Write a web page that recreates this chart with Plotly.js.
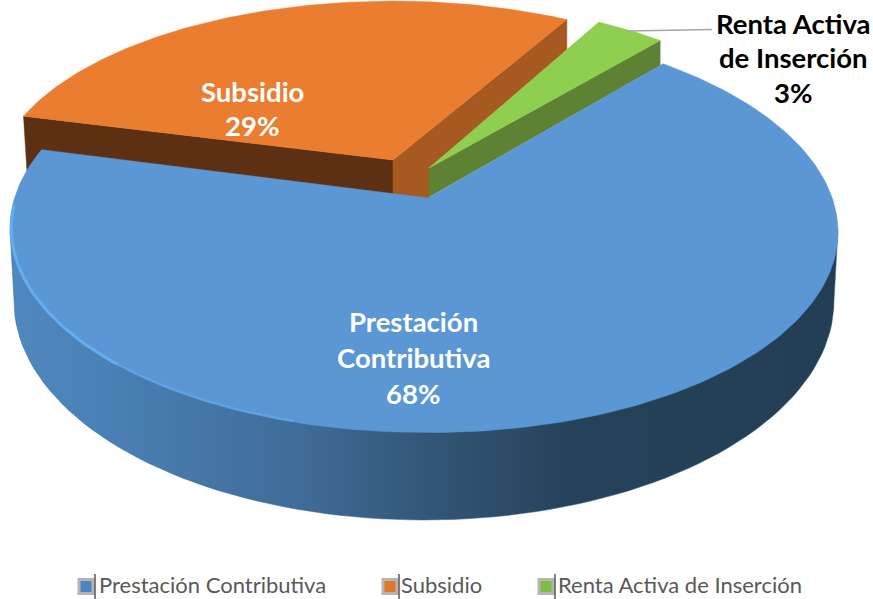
<!DOCTYPE html>
<html>
<head>
<meta charset="utf-8">
<script src="https://cdn.plot.ly/plotly-3.0.1.min.js"></script>
<style>html,body{margin:0;padding:0;background:#fff}#c{width:873px;height:599px}</style>
</head>
<body>
<div id="c"></div>
<script>
const categories = ['Prestación Contributiva', 'Subsidio', 'Renta Activa de Inserción'];
const values = [67.5, 29.2, 3.3];
const labelLines = [['Prestación', 'Contributiva'], ['Subsidio'], ['Renta Activa', 'de Inserción']];
const labelCentres = [[413, 321], [252, 91], [793, 23]];
const labelColours = ['#ffffff', '#ffffff', '#000000'];
const topColours = ['#5B97D5', '#EB7D30', '#8FCF50'];
const legendMarkX = [86, 390, 546];
const legendTextX = [99, 401, 558];

const startAngle = 41.5, RX = 409.5, RY = 200, K = 0.147;
const total = values.reduce((a, b) => a + b, 0);
const spans = values.map(v => v / total * 360);
const starts = [startAngle, startAngle + spans[0], startAngle + spans[0] + spans[1]];

function project(deg, r, ox, oy, sy, sag) {
  const t = deg * Math.PI / 180, x = r * Math.sin(t), y = r * Math.cos(t), w = 1 + K * y;
  return [ox + RX * x / w, oy - RY * (sy || 1) * y / w + (sag || 0) * Math.max(0, Math.sin(t))];
}
function arc(a0, a1, r, ox, oy, sy, sag) {
  const pts = [], n = Math.max(8, Math.ceil(Math.abs(a1 - a0)));
  for (let i = 0; i <= n; i++) pts.push(project(a0 + (a1 - a0) * i / n, r, ox, oy, sy, sag));
  return pts;
}
function poly(pts, colour, extra) {
  const xs = pts.map(p => p[0]), ys = pts.map(p => p[1]);
  xs.push(xs[0]); ys.push(ys[0]);
  return Object.assign({x: xs, y: ys, type: 'scatter', mode: 'lines', fill: 'toself',
    fillcolor: colour, line: {color: colour, width: 0.5}, hoverinfo: 'skip', showlegend: false}, extra || {});
}

const traces = [];

// front wall of the main slice
const wall = [[10, 230]];
for (let a = 180; a <= 360; a += 2) {
  const t = a * Math.PI / 180;
  wall.push([424 + 410 * Math.cos(t), 301 - 219 * Math.sin(t)]);
}
wall.push([838, 230]);
traces.push(poly(wall, '#3a6590', {
  fillgradient: {type: 'horizontal', colorscale: [[0, '#4F88C0'], [0.12, '#4A80B5'], [0.35, '#3F6C98'],
    [0.5, '#335778'], [0.68, '#25425A'], [1, '#233E54']]}
}));

// orange slice
const oO = [393, 160], oSy = 0.94, oR = 0.965, oDepth = 35;
const oA = starts[1], oB = starts[1] + spans[1];
const oL = project(oA, oR, oO[0], oO[1], oSy), oE = project(oB, oR, oO[0], oO[1], oSy);
traces.push(poly([oL, oO, [oO[0], oO[1] + oDepth], [oL[0] + 4, oL[1] + 65]], '#5E3013'));
traces.push(poly([oO, oE, [oE[0], oE[1] + oDepth], [429, 168], [429, 200], [oO[0], oO[1] + oDepth]], '#A65A21'));
traces.push(poly([oO].concat(arc(oA, oB, oR, oO[0], oO[1], oSy)), topColours[1]));

// green slice
const gO = [429, 168], gR = 0.94, gDepth = 25;
const gA = starts[2], gB = starts[2] + spans[2];
const gE = project(gB, gR, gO[0], gO[1]);
traces.push(poly([gO, gE, [gE[0], gE[1] + gDepth], [gO[0], gO[1] + 29]], '#5E8233'));
traces.push(poly([gO].concat(arc(gA, gB, gR, gO[0], gO[1])), topColours[2]));

// blue top face
const bArc = arc(starts[0] - 1, starts[0] + spans[0], 1, 424, 198, 1, 4);
traces.push(poly([[428, 198]].concat(bArc), topColours[0]));

// bevel rim along the lit edge
const rimMain = arc(268, 222, 0.997, 424, 198);
const rimFade = arc(222, 196, 0.996, 424, 198);
const rimLine = (pts, c, w) => ({x: pts.map(p => p[0]), y: pts.map(p => p[1]), type: 'scatter', mode: 'lines',
  line: {color: c, width: w}, hoverinfo: 'skip', showlegend: false});
traces.push(rimLine(rimMain, '#64ADF0', 3));
traces.push(rimLine(rimFade, '#60A4E6', 2));

// leader line
traces.push(rimLine([[628, 31], [712, 29.5]], '#A6A6A6', 1.5));

// legend marks
traces.push({x: legendMarkX, y: legendMarkX.map(() => 586.5), type: 'scatter', mode: 'markers',
  marker: {symbol: 'square', size: 14, color: ['#4A86C5', '#E2762C', '#7FBE45'], line: {color: '#B5B5B5', width: 3}},
  hoverinfo: 'skip', showlegend: false});
traces.push({x: legendMarkX.map(v => v + 9), y: legendMarkX.map(() => 586.5), type: 'scatter', mode: 'markers',
  marker: {symbol: 'line-ns', size: 18, line: {color: '#555555', width: 1.5}},
  hoverinfo: 'skip', showlegend: false});

const LBL = 'Lato, Carlito, sans-serif';
const annotations = [];
categories.forEach((c, i) => {
  const lines = labelLines[i].concat([Math.round(values[i]) + '%']);
  lines.forEach((txt, j) => annotations.push({x: labelCentres[i][0], y: labelCentres[i][1] + j * (i === 0 ? 36 : 34.5),
    xref: 'x', yref: 'y', text: txt, showarrow: false, xanchor: 'center', yanchor: 'middle',
    font: {family: LBL, size: 27.5, color: labelColours[i], weight: 700}}));
  annotations.push({x: legendTextX[i], y: 584.5, xref: 'x', yref: 'y', text: c, showarrow: false,
    xanchor: 'left', yanchor: 'middle', xshift: -2, font: {family: LBL, size: 22, color: '#595959'}});
});

Plotly.newPlot('c', traces, {
  width: 873, height: 599, margin: {l: 0, r: 0, t: 0, b: 0},
  paper_bgcolor: '#fff', plot_bgcolor: '#fff', showlegend: false, hovermode: false,
  xaxis: {range: [0, 873], visible: false, fixedrange: true},
  yaxis: {range: [599, 0], visible: false, fixedrange: true},
  annotations
}, {displayModeBar: false, staticPlot: true});
</script>
</body>
</html>
